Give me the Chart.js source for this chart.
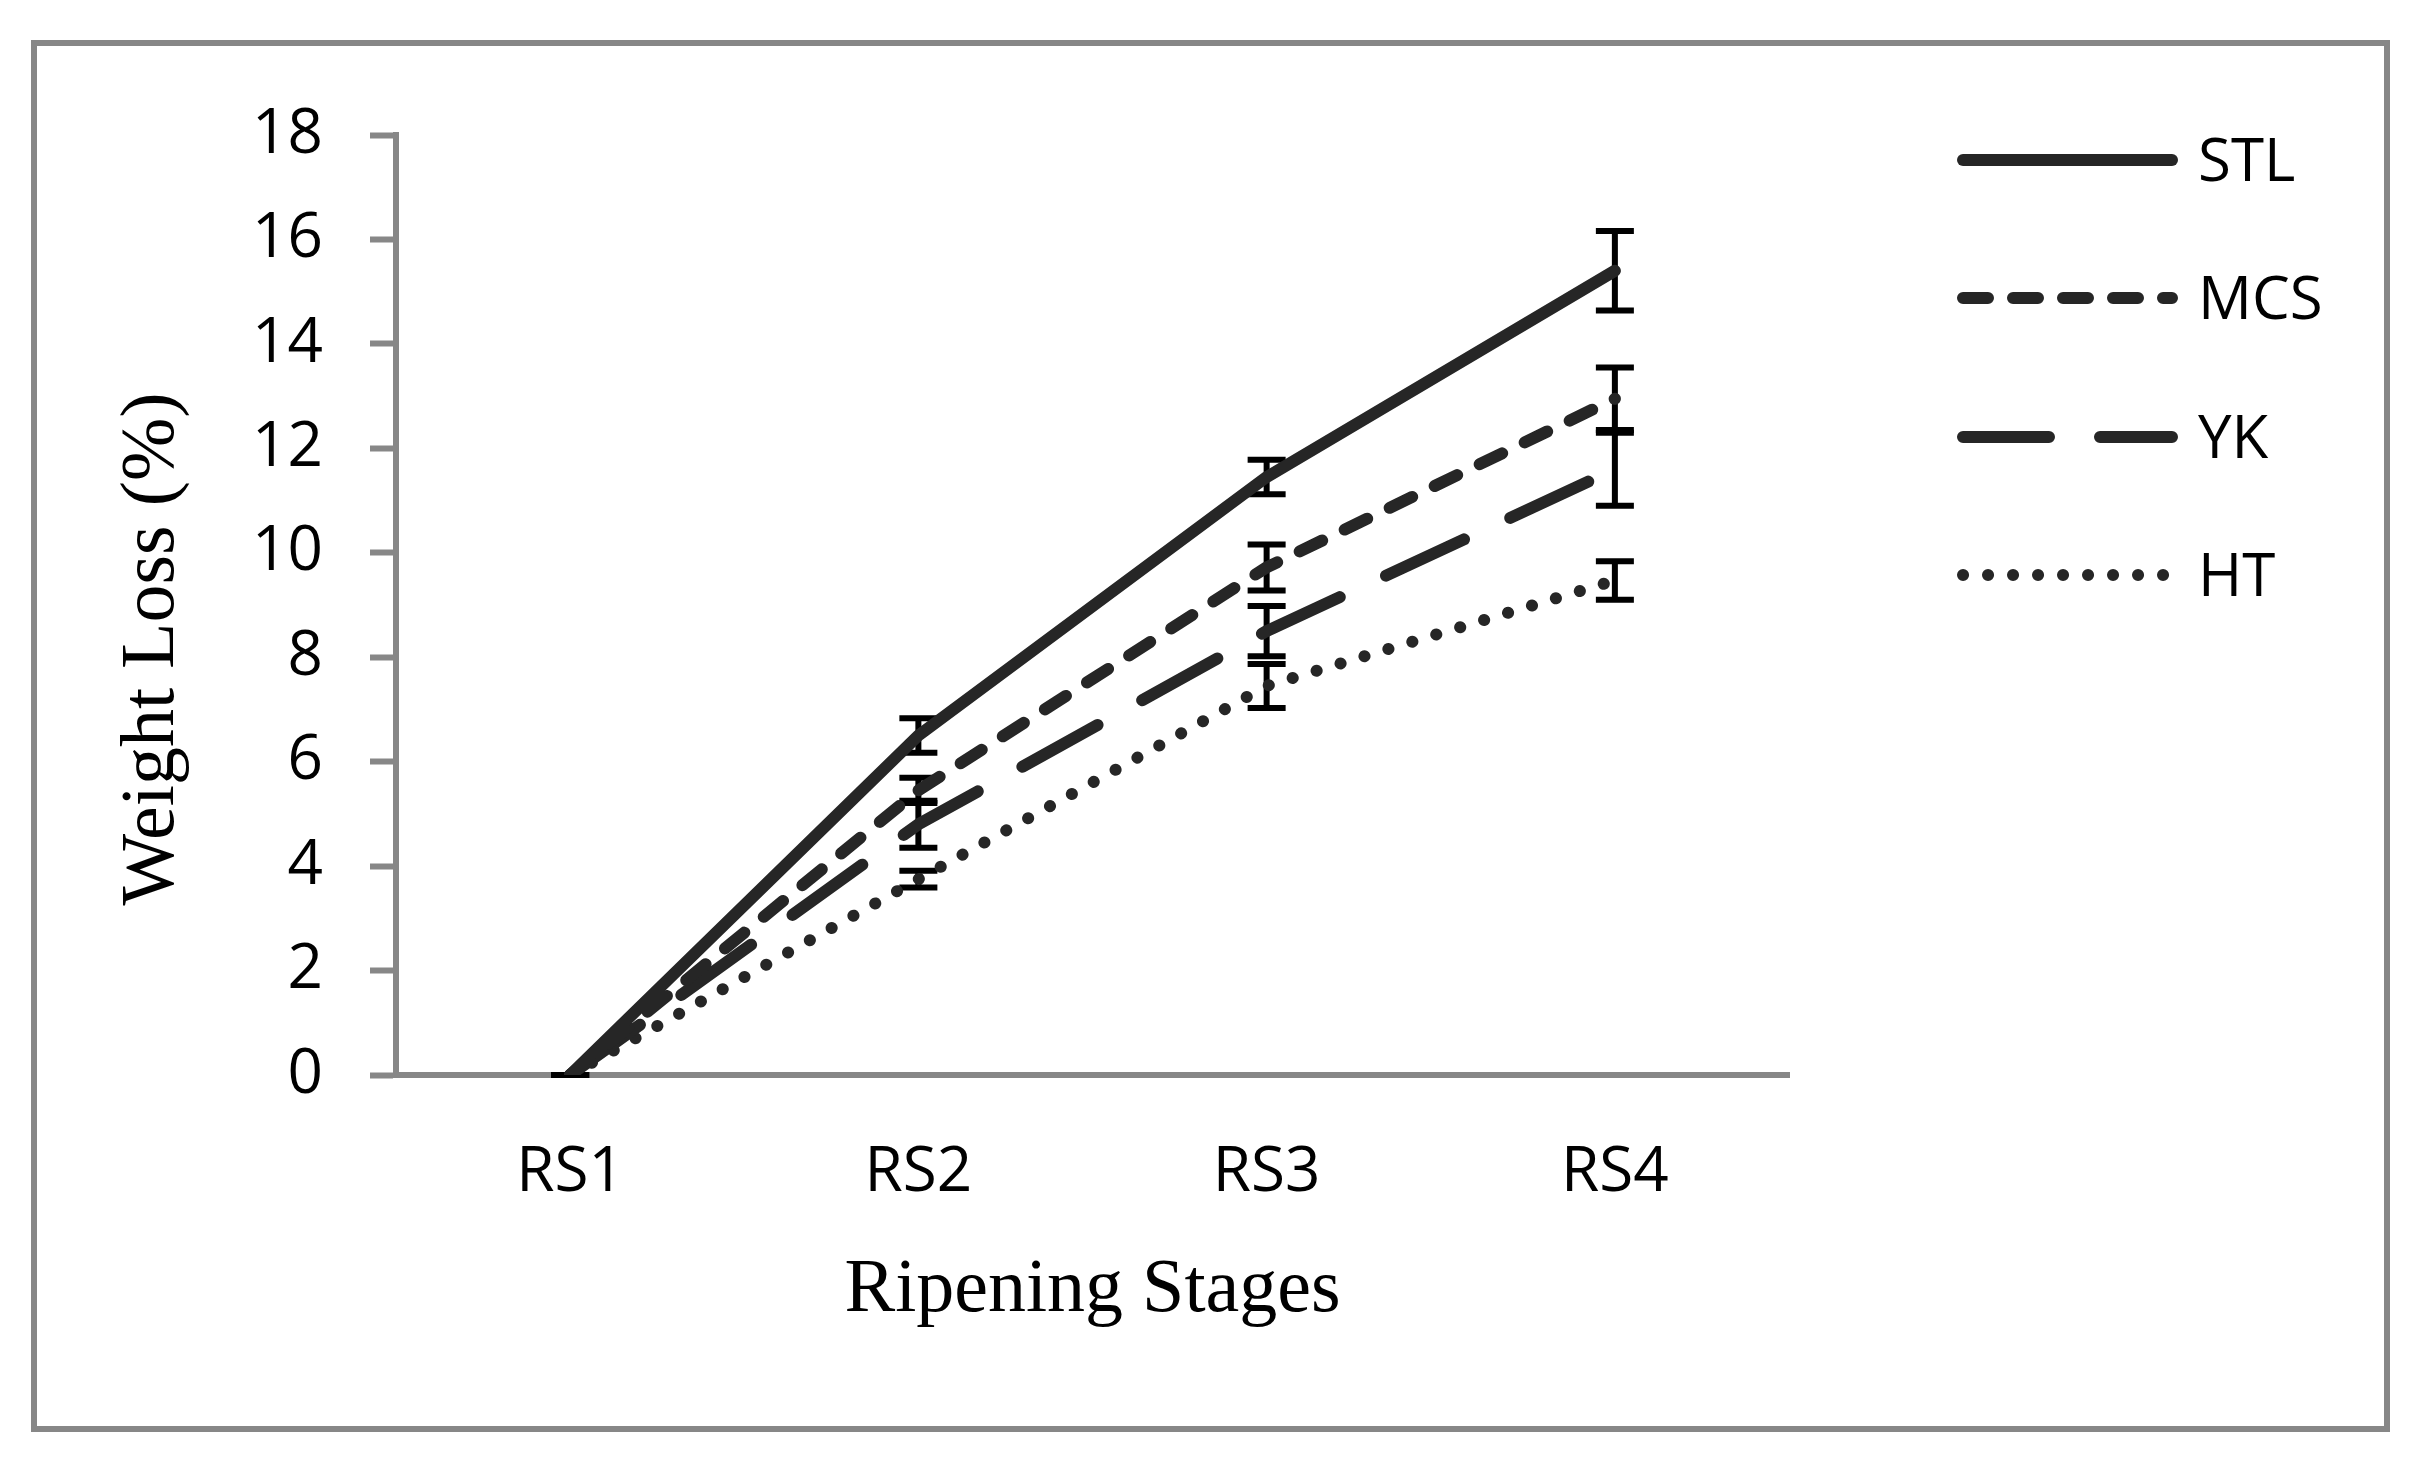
<!DOCTYPE html>
<html lang="en">
<head>
    <meta charset="UTF-8">
    <title>Weight Loss by Ripening Stage</title>
    <script src="https://cdn.jsdelivr.net/npm/chart.js"></script>
    <style>
        html, body { margin: 0; padding: 0; background: #fff; }
        #wrap { width: 2422px; height: 1472px; }
    </style>
</head>
<body>
    <div id="wrap"><canvas id="weightLossChart" width="2422" height="1472"></canvas></div>

    <script>
        // values
        const stages = ['RS1', 'RS2', 'RS3', 'RS4'];
        const seriesNames = ['STL', 'MCS', 'YK', 'HT'];

        const stlLoss = [0, 6.5, 11.45, 15.4];
        const mcsLoss = [0, 5.45, 9.72, 12.95];
        const ykLoss = [0, 4.8, 8.5, 11.6];
        const htLoss = [0, 3.75, 7.45, 9.47];

        // error bar half-heights
        const stlErr = [0, 0.33, 0.33, 0.76];
        const mcsErr = [0, 0.24, 0.44, 0.6];
        const ykErr = [0, 0.45, 0.48, 0.7];
        const htErr = [0, 0.16, 0.42, 0.37];

        const yTicks = [0, 2, 4, 6, 8, 10, 12, 14, 16, 18];

        const axisGray = '#878787';
        const lineColor = '#262626';
        const sansFont = "'Open Sans', 'Noto Sans', sans-serif";
        const serifFont = "'Liberation Serif', 'DejaVu Serif', serif";

        // draws the outer frame, axis titles and the legend column on the right
        const frameAndTitles = {
            id: 'frameAndTitles',
            beforeDraw(chart) {
                const ctx = chart.ctx;
                ctx.save();
                ctx.strokeStyle = axisGray;
                ctx.lineWidth = 6;
                ctx.strokeRect(34, 43, 2353, 1386);
                ctx.restore();
            },
            afterDraw(chart) {
                const ctx = chart.ctx;
                const area = chart.chartArea;
                ctx.save();
                ctx.fillStyle = '#000';
                ctx.font = '76px ' + serifFont;
                ctx.textAlign = 'center';
                ctx.textBaseline = 'alphabetic';
                ctx.fillText('Ripening Stages', (area.left + area.right) / 2, 1311);

                ctx.translate(173, 649);
                ctx.rotate(-Math.PI / 2);
                ctx.fillText('Weight Loss (%)', 0, 0);
                ctx.restore();

                // legend
                const rowsY = [160, 298, 437, 575];
                chart.data.datasets.forEach((ds, i) => {
                    const y = rowsY[i];
                    ctx.save();
                    ctx.strokeStyle = ds.borderColor;
                    ctx.lineWidth = 12;
                    ctx.lineCap = 'round';
                    ctx.setLineDash(ds.borderDash || []);
                    ctx.beginPath();
                    ctx.moveTo(1963, y);
                    ctx.lineTo(2172, y);
                    ctx.stroke();
                    ctx.setLineDash([]);
                    ctx.fillStyle = '#000';
                    ctx.font = '60px ' + sansFont;
                    ctx.textAlign = 'left';
                    ctx.textBaseline = 'alphabetic';
                    ctx.fillText(ds.label, 2198, y + 21);
                    ctx.restore();
                });
            }
        };

        // error bars drawn under the lines
        const errorBars = {
            id: 'errorBars',
            beforeDatasetsDraw(chart) {
                const ctx = chart.ctx;
                const xScale = chart.scales.x;
                const yScale = chart.scales.y;
                ctx.save();
                ctx.strokeStyle = '#000';
                ctx.lineWidth = 6;
                ctx.lineCap = 'butt';
                chart.data.datasets.forEach(ds => {
                    ds.data.forEach((v, j) => {
                        const e = ds.errors[j];
                        const x = xScale.getPixelForValue(j);
                        const yTop = yScale.getPixelForValue(v + e);
                        const yBot = yScale.getPixelForValue(v - e);
                        ctx.beginPath();
                        ctx.moveTo(x, yTop);
                        ctx.lineTo(x, yBot);
                        ctx.moveTo(x - 19, yTop);
                        ctx.lineTo(x + 19, yTop);
                        ctx.moveTo(x - 19, yBot);
                        ctx.lineTo(x + 19, yBot);
                        ctx.stroke();
                    });
                });
                ctx.restore();
            }
        };

        function makeSeries(name, values, errors, dash) {
            return {
                label: name,
                data: values,
                errors: errors,
                borderColor: lineColor,
                backgroundColor: lineColor,
                borderWidth: 12,
                borderDash: dash,
                borderCapStyle: 'round',
                borderJoinStyle: 'round',
                pointRadius: 0,
                tension: 0,
                fill: false
            };
        }

        const ctx = document.getElementById('weightLossChart').getContext('2d');
        const weightLossChart = new Chart(ctx, {
            type: 'line',
            data: {
                labels: stages,
                datasets: [
                    makeSeries(seriesNames[0], stlLoss, stlErr, []),
                    makeSeries(seriesNames[1], mcsLoss, mcsErr, [25, 25]),
                    makeSeries(seriesNames[2], ykLoss, ykErr, [86, 51]),
                    makeSeries(seriesNames[3], htLoss, htErr, [0.1, 24.9])
                ]
            },
            options: {
                responsive: false,
                animation: false,
                devicePixelRatio: 1,
                layout: {
                    padding: { top: 135, right: 633, bottom: 0, left: 0 }
                },
                plugins: {
                    legend: { display: false },
                    tooltip: { enabled: false }
                },
                scales: {
                    x: {
                        offset: true,
                        grid: { drawOnChartArea: false, drawTicks: false },
                        border: { display: true, color: axisGray, width: 6 },
                        ticks: {
                            color: '#000',
                            padding: 61,
                            font: { family: sansFont, size: 62 }
                        },
                        afterFit(scale) { scale.height = 397; }
                    },
                    y: {
                        min: 0,
                        max: 18,
                        afterBuildTicks(scale) {
                            scale.ticks = yTicks.map(v => ({ value: v }));
                        },
                        grid: {
                            drawOnChartArea: false,
                            drawTicks: true,
                            tickLength: 26,
                            tickColor: axisGray,
                            tickWidth: 6
                        },
                        border: { display: true, color: axisGray, width: 6 },
                        ticks: {
                            color: '#000',
                            padding: 47,
                            font: { family: sansFont, size: 62 }
                        },
                        afterFit(scale) { scale.width = 396; }
                    }
                }
            },
            plugins: [frameAndTitles, errorBars]
        });
    </script>
</body>
</html>
